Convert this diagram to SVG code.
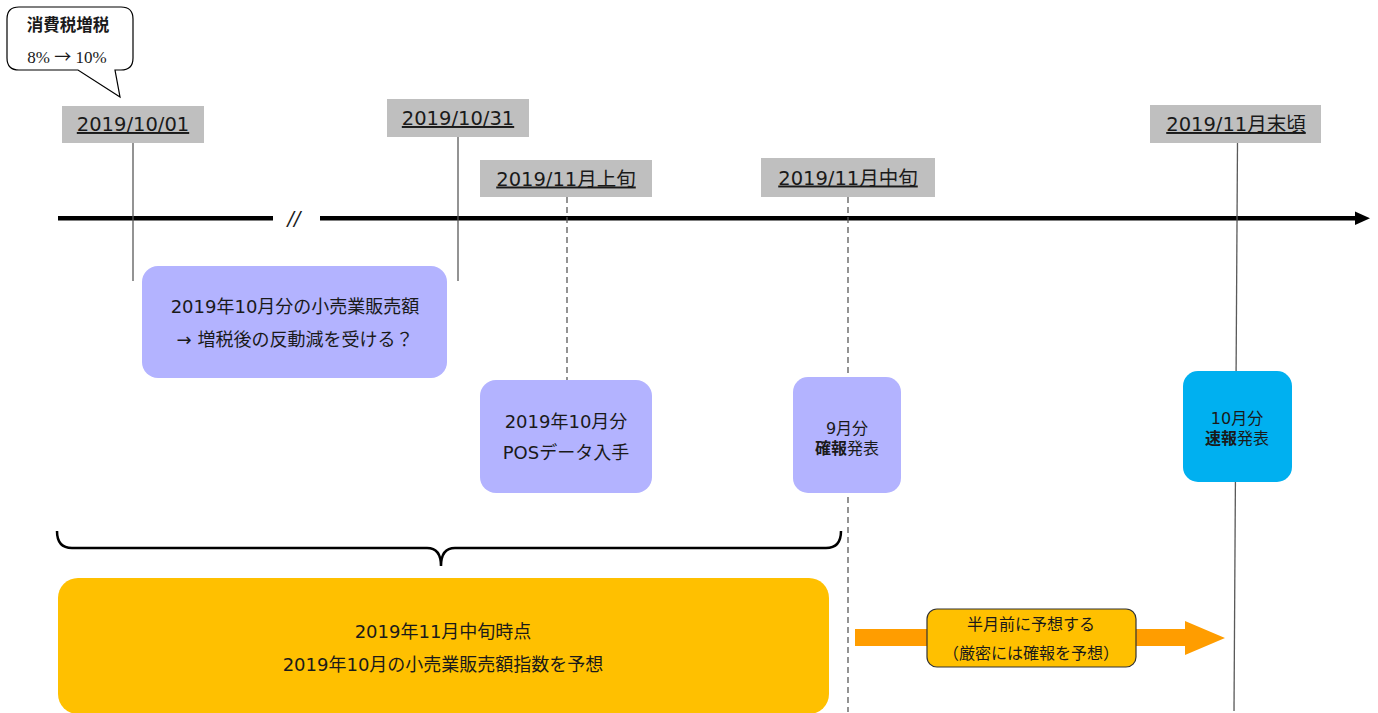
<svg xmlns="http://www.w3.org/2000/svg" width="1378" height="713" viewBox="0 0 1378 713">
<style>
text{font-family:"DejaVu Sans","Noto Sans CJK JP",sans-serif;fill:#1a1a1a;text-anchor:middle}
.date{font-size:19.5px;text-decoration:underline}
.lbl{fill:#BFBFBF}
.body{font-size:18px}
.small{font-size:16px}
.purple{fill:#B3B3FF}
.vsolid{stroke:#595959;stroke-width:1.3;fill:none}
.vdash{stroke:#595959;stroke-width:1.3;stroke-dasharray:6,4;fill:none}
</style>
<rect width="1378" height="713" fill="#ffffff"/>

<g id="callout">
<path d="M19,7 H121 Q133,7 133,19 V58 Q133,70 121,70 H115 L120,97 L78,70 H19 Q7,70 7,58 V19 Q7,7 19,7 Z" fill="#ffffff" stroke="#000" stroke-width="1.2"/>
<text x="68" y="31" style="font-size:16.5px;font-weight:bold;font-family:'Noto Sans CJK JP',sans-serif">消費税増税</text>
<text x="67" y="63" style="font-size:17px;font-family:'Liberation Serif','DejaVu Serif',serif">8% <tspan style="font-family:'Noto Sans CJK JP',sans-serif">→</tspan> 10%</text>
</g>

<g id="connectors">
<line x1="58" y1="218.3" x2="273" y2="218.3" stroke="#000" stroke-width="4.5"/>
<line x1="320" y1="218.3" x2="1357" y2="218.3" stroke="#000" stroke-width="4.5"/>
<polygon points="1355,211.5 1370,218.3 1355,225" fill="#000"/>
<text x="294" y="225" style="font-size:19px;font-style:italic">//</text>
<line class="vsolid" x1="133" y1="143" x2="133" y2="281"/>
<line class="vsolid" x1="458" y1="137" x2="458" y2="281"/>
<line class="vdash" x1="567" y1="197" x2="567" y2="380"/>
<line class="vdash" x1="848" y1="197" x2="848" y2="712"/>
<line class="vsolid" x1="1237.5" y1="143" x2="1234" y2="711"/>
<path d="M57,531 Q57,548 72,548 H427 Q441,548 441,566 Q441,548 455,548 H826 Q841,548 841,531" fill="none" stroke="#000" stroke-width="2.5"/>
<polygon points="855,629 1185,629 1185,621 1225,638 1185,655 1185,646 855,646" fill="#FF9D00"/>
</g>

<g id="date-1001">
<rect class="lbl" x="62" y="106" width="142" height="37"/>
<text class="date" x="133" y="131">2019/10/01</text>
</g>
<g id="date-1031">
<rect class="lbl" x="387" y="99" width="142" height="38"/>
<text class="date" x="458" y="125">2019/10/31</text>
</g>
<g id="date-11-early">
<rect class="lbl" x="480" y="160" width="172" height="37"/>
<text class="date" x="566" y="185.5">2019/11月上旬</text>
</g>
<g id="date-11-mid">
<rect class="lbl" x="761" y="158" width="174" height="39"/>
<text class="date" x="848" y="184.5">2019/11月中旬</text>
</g>
<g id="date-11-end">
<rect class="lbl" x="1150" y="105" width="171" height="38"/>
<text class="date" x="1236" y="131">2019/11月末頃</text>
</g>

<g id="box-sales">
<rect class="purple" x="142" y="266" width="305" height="112" rx="16"/>
<text class="body" x="295" y="313">2019年10月分の小売業販売額</text>
<text class="body" x="295" y="346">→ 増税後の反動減を受ける？</text>
</g>
<g id="box-pos">
<rect class="purple" x="480" y="380" width="172" height="113" rx="16"/>
<text class="body" x="566" y="428">2019年10月分</text>
<text class="body" x="566" y="459">POSデータ入手</text>
</g>
<g id="box-kakuho">
<rect class="purple" x="793" y="377" width="108" height="116" rx="15"/>
<text class="small" x="847" y="434">9月分</text>
<text class="small" x="847" y="454"><tspan font-weight="bold">確報</tspan>発表</text>
</g>
<g id="box-sokuho">
<rect x="1183" y="371" width="109" height="111" rx="15" fill="#00B0F0"/>
<text class="small" x="1237" y="424">10月分</text>
<text class="small" x="1237" y="444"><tspan font-weight="bold">速報</tspan>発表</text>
</g>
<g id="box-forecast">
<rect x="58" y="578" width="771" height="136" rx="20" fill="#FFC000"/>
<text class="body" x="443" y="638">2019年11月中旬時点</text>
<text class="body" x="443" y="671">2019年10月の小売業販売額指数を予想</text>
</g>
<g id="box-halfmonth">
<rect x="927" y="609" width="209" height="58" rx="10" fill="#FFC000" stroke="#333" stroke-width="1.2"/>
<text class="small" x="1031" y="630">半月前に予想する</text>
<text class="small" x="1031" y="659">（厳密には確報を予想）</text>
</g>
</svg>
